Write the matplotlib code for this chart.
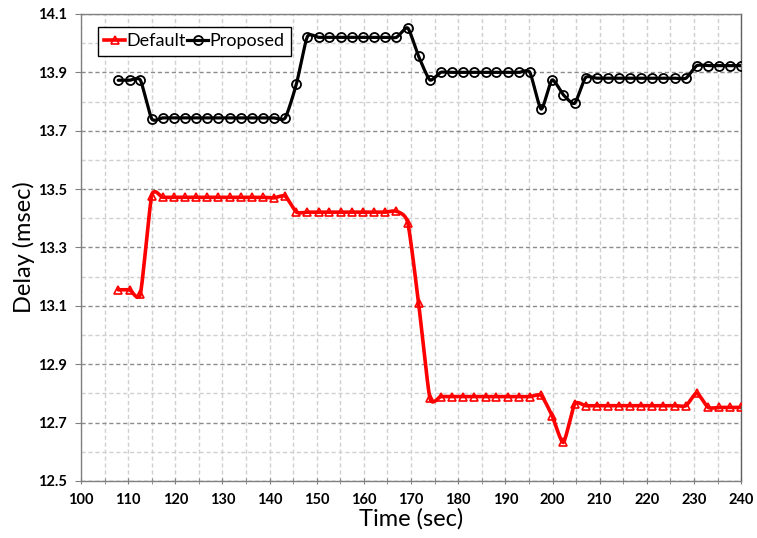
import numpy as np
import matplotlib
matplotlib.use("Agg")
import matplotlib.pyplot as plt
from matplotlib.ticker import MultipleLocator

plt.rcParams['font.family'] = ['Lato', 'DejaVu Sans']

# sample times (sec)
time_sec = [107.9, 110.3, 112.6, 115.0, 117.3, 119.7, 122.1, 124.4, 126.8, 129.1,
            131.5, 133.9, 136.2, 138.6, 140.9, 143.3, 145.7, 148.0, 150.4, 152.7,
            155.1, 157.5, 159.8, 162.2, 164.5, 166.9, 169.3, 171.6, 174.0, 176.3,
            178.7, 181.1, 183.4, 185.8, 188.1, 190.5, 192.9, 195.2, 197.6, 199.9,
            202.3, 204.7, 207.0, 209.4, 211.7, 214.1, 216.5, 218.8, 221.2, 223.5,
            225.9, 228.3, 230.6, 233.0, 235.3, 237.7, 240.0]

# delay (msec)
default_delay = [13.155, 13.155, 13.141, 13.478, 13.472, 13.472, 13.472, 13.472, 13.472, 13.472,
                 13.472, 13.472, 13.472, 13.472, 13.470, 13.476, 13.421, 13.421, 13.421, 13.421,
                 13.421, 13.421, 13.421, 13.421, 13.421, 13.424, 13.385, 13.109, 12.784, 12.789,
                 12.789, 12.789, 12.789, 12.789, 12.789, 12.789, 12.789, 12.789, 12.793, 12.724,
                 12.632, 12.764, 12.758, 12.758, 12.758, 12.758, 12.758, 12.758, 12.758, 12.758,
                 12.758, 12.758, 12.801, 12.752, 12.752, 12.752, 12.752]

proposed_delay = [13.873, 13.873, 13.873, 13.741, 13.744, 13.744, 13.744, 13.744, 13.744, 13.744,
                  13.744, 13.744, 13.744, 13.744, 13.744, 13.744, 13.861, 14.022, 14.020, 14.020,
                  14.020, 14.020, 14.020, 14.020, 14.020, 14.020, 14.052, 13.955, 13.874, 13.900,
                  13.900, 13.900, 13.900, 13.900, 13.900, 13.900, 13.900, 13.900, 13.774, 13.874,
                  13.823, 13.794, 13.882, 13.880, 13.880, 13.880, 13.880, 13.880, 13.880, 13.880,
                  13.880, 13.880, 13.923, 13.923, 13.923, 13.923, 13.923]

y_ticks = [12.5, 12.7, 12.9, 13.1, 13.3, 13.5, 13.7, 13.9, 14.1]


def smooth(x, y, n=16, k=10.0):
    # cubic bezier through the points, control points from neighbours
    x = np.asarray(x, float)
    y = np.asarray(y, float)
    px = np.concatenate([[x[0]], x, [x[-1]]])
    py = np.concatenate([[y[0]], y, [y[-1]]])
    t = np.linspace(0, 1, n)
    xs, ys = [], []
    for i in range(len(x) - 1):
        x0, x1, x2, x3 = px[i:i + 4]
        y0, y1, y2, y3 = py[i:i + 4]
        cx1, cy1 = x1 + (x2 - x0) / k, y1 + (y2 - y0) / k
        cx2, cy2 = x2 - (x3 - x1) / k, y2 - (y3 - y1) / k
        b0 = (1 - t) ** 3
        b1 = 3 * (1 - t) ** 2 * t
        b2 = 3 * (1 - t) * t ** 2
        b3 = t ** 3
        xs.append(b0 * x1 + b1 * cx1 + b2 * cx2 + b3 * x2)
        ys.append(b0 * y1 + b1 * cy1 + b2 * cy2 + b3 * y2)
    return np.concatenate(xs), np.concatenate(ys)


fig = plt.figure(figsize=(7.57, 5.38), dpi=100)
ax = fig.add_axes([0.107, 0.106, 0.872, 0.868])

sx, sy = smooth(time_sec, default_delay)
ax.plot(sx, sy, color='#ff0000', lw=2.6, solid_capstyle='round', zorder=3)
ax.plot(time_sec, default_delay, ls='none', marker='^', ms=6, mfc='none',
        mec='#ff0000', mew=1.2, zorder=4)

sx, sy = smooth(time_sec, proposed_delay)
ax.plot(sx, sy, color='black', lw=2.3, solid_capstyle='round', zorder=3)
ax.plot(time_sec, proposed_delay, ls='none', marker='o', ms=6.5, mfc='none',
        mec='black', mew=1.3, zorder=4)

# legend handles
h1, = ax.plot([], [], color='#ff0000', lw=2.6, marker='^', ms=6, mfc='none', mec='#ff0000', mew=1.2)
h2, = ax.plot([], [], color='black', lw=2.3, marker='o', ms=6.5, mfc='none', mec='black', mew=1.3)
leg = ax.legend([h1, h2], ['Default', 'Proposed'], ncol=2, loc='upper left',
                bbox_to_anchor=(0.025, 0.972), borderaxespad=0, fontsize=13,
                handlelength=1.2, handletextpad=0.05, columnspacing=0.05,
                borderpad=0.35, fancybox=False, framealpha=1)
leg.get_frame().set_edgecolor('black')
leg.get_frame().set_linewidth(1.0)

ax.set_xlim(100, 240)
ax.set_ylim(12.5, 14.1)
ax.xaxis.set_major_locator(MultipleLocator(10))
ax.xaxis.set_minor_locator(MultipleLocator(5))
ax.set_yticks(y_ticks)
ax.set_yticklabels([f'{v:.1f}' for v in y_ticks])
ax.yaxis.set_minor_locator(MultipleLocator(0.1))

ax.grid(which='major', axis='y', color='#8c8c8c', ls=(0, (3, 2)), lw=1.0)
ax.grid(which='minor', axis='y', color='#d0d0d0', ls=(0, (3, 2)), lw=1.0)
ax.grid(which='both', axis='x', color='#d0d0d0', ls=(0, (3, 2)), lw=1.0)
ax.set_axisbelow(True)

for s in ax.spines.values():
    s.set_color('#808080')
    s.set_linewidth(1.0)
ax.spines['right'].set_color('#606060')

ax.tick_params(which='major', direction='out', length=4, color='#808080',
               labelsize=10.5, pad=6)
ax.tick_params(axis='y', which='minor', length=0)
ax.tick_params(axis='x', which='both', direction='inout', length=5, color='#808080')
for lab in ax.get_xticklabels() + ax.get_yticklabels():
    lab.set_fontweight('bold')

ax.set_xlabel('Time (sec)', fontsize=17, labelpad=1)
ax.set_ylabel('Delay (msec)', fontsize=17, labelpad=2)

fig.savefig('out.png', dpi=100)
